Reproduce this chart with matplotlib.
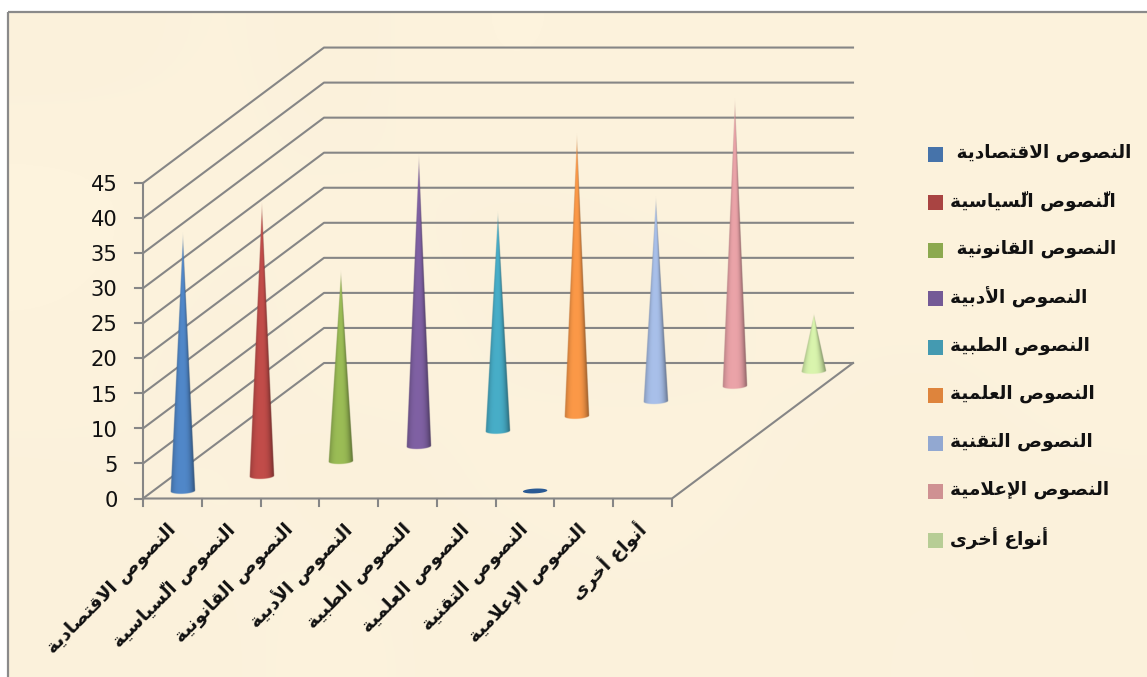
import numpy as np
import matplotlib
matplotlib.use("Agg")
import matplotlib.pyplot as plt
from matplotlib.patches import Polygon, Rectangle
from matplotlib.colors import to_rgb

# ---- chart data -------------------------------------------------------------
categories = [
    "النصوص الاقتصادية", "النصوص السّياسية", "النصوص القانونية",
    "النصوص الأدبية", "النصوص الطبية", "النصوص العلمية",
    "النصوص التقنية", "النصوص الإعلامية", "أنواع أخرى",
]
legend_labels = [
    "النصوص الاقتصادية ", "النَّصوص السّياسية", "النصوص القانونية ",
    "النصوص الأدبية", "النصوص الطبية", "النصوص العلمية",
    "النصوص التقنية", "النصوص الإعلامية", "أنواع أخرى",
]
series_values = [36.7, 39.0, 27.1, 41.4, 31.1, 40.2, 29.1, 40.8, 8.1]
# the first series also holds a zero in the seventh category
zero_category = 6
zero_series = 0
y_ticks = [0, 5, 10, 15, 20, 25, 30, 35, 40, 45]

cone_colors = ["#4F85C5", "#BE4B48", "#98B954", "#7D5FA0", "#46AAC4",
               "#F79646", "#A5BCE5", "#E6A0A5", "#D5F0AA"]
legend_colors = ["#4673AA", "#A94442", "#8CA94F", "#745A96", "#449AB1",
                 "#DE843C", "#92A8D1", "#CF9192", "#B7CD95"]

# ---- Arabic shaping: matplotlib lays text out left to right without joining --
FORMS = {
    "ا": (0xFE8D, 0xFE8E), "أ": (0xFE83, 0xFE84), "إ": (0xFE87, 0xFE88),
    "د": (0xFEA9, 0xFEAA), "ر": (0xFEAD, 0xFEAE), "و": (0xFEED, 0xFEEE),
    "ة": (0xFE93, 0xFE94), "ى": (0xFEEF, 0xFEF0),
    "ب": (0xFE8F, 0xFE90, 0xFE91, 0xFE92), "ت": (0xFE95, 0xFE96, 0xFE97, 0xFE98),
    "خ": (0xFEA5, 0xFEA6, 0xFEA7, 0xFEA8), "س": (0xFEB1, 0xFEB2, 0xFEB3, 0xFEB4),
    "ص": (0xFEB9, 0xFEBA, 0xFEBB, 0xFEBC), "ط": (0xFEC1, 0xFEC2, 0xFEC3, 0xFEC4),
    "ع": (0xFEC9, 0xFECA, 0xFECB, 0xFECC), "ق": (0xFED5, 0xFED6, 0xFED7, 0xFED8),
    "ل": (0xFEDD, 0xFEDE, 0xFEDF, 0xFEE0), "م": (0xFEE1, 0xFEE2, 0xFEE3, 0xFEE4),
    "ن": (0xFEE5, 0xFEE6, 0xFEE7, 0xFEE8), "ي": (0xFEF1, 0xFEF2, 0xFEF3, 0xFEF4),
}
LAM_ALEF = {"ا": (0xFEFB, 0xFEFC), "أ": (0xFEF7, 0xFEF8), "إ": (0xFEF9, 0xFEFA)}
MARKS = "\u064E\u0651"


def shape(text):
    clusters = []
    for ch in text:
        if ch in MARKS and clusters:
            clusters[-1][1] += ch
        else:
            clusters.append([ch, ""])
    out = []
    i = 0
    prev_joins = False
    while i < len(clusters):
        ch, marks = clusters[i]
        nxt = clusters[i + 1][0] if i + 1 < len(clusters) else None
        if ch == "ل" and nxt in LAM_ALEF:
            out.append(chr(LAM_ALEF[nxt][1 if prev_joins else 0]) + marks)
            prev_joins = False
            i += 2
            continue
        if ch not in FORMS:
            out.append(ch + marks)
            prev_joins = False
            i += 1
            continue
        forms = FORMS[ch]
        dual = len(forms) == 4
        joins_next = dual and nxt in FORMS
        if prev_joins and joins_next:
            glyph = forms[3]
        elif prev_joins:
            glyph = forms[1]
        elif joins_next:
            glyph = forms[2]
        else:
            glyph = forms[0]
        out.append(chr(glyph) + marks)
        prev_joins = joins_next
        i += 1
    return "".join(reversed(out))


# ---- oblique projection of the 3-D column chart onto the canvas --------------
FRONT_X, FRONT_Y = 143.0, 498.5
WIDTH = 529.0
DEPTH_X, DEPTH_Y = 181.0, -135.5
UNIT = 7.01
N = len(categories)


def project(cat, ser, value=0.0):
    """cat and ser are floats in 0..N along width and depth; value is height."""
    return (FRONT_X + WIDTH * cat / N + DEPTH_X * ser / N,
            FRONT_Y + DEPTH_Y * ser / N - UNIT * value)


fig = plt.figure(figsize=(11.47, 6.77), dpi=100, facecolor="white")
ax = fig.add_axes([0, 0, 1, 1])
ax.set_xlim(0, 1147)
ax.set_ylim(677, 0)
ax.set_autoscale_on(False)
ax.axis("off")

# parchment backdrop with soft mottling
tint = np.array([
    [0.992, 0.998, 0.992, 1.004, 0.995, 0.998, 0.995, 0.998],
    [1.006, 0.995, 0.998, 0.992, 0.998, 0.995, 1.000, 0.995],
    [0.998, 0.992, 1.000, 0.995, 0.992, 0.998, 0.995, 1.000],
    [0.995, 0.998, 0.992, 0.998, 1.000, 0.995, 0.992, 0.995],
    [0.992, 0.995, 0.998, 0.992, 0.995, 0.992, 0.998, 0.992],
])
paper = np.array(to_rgb("#FDF3DD"))
texture = np.clip(tint[..., None] * paper, 0, 1)
ax.imshow(texture, extent=(8, 1147, 677, 12), interpolation="bicubic",
          aspect="auto", zorder=0)
ax.add_patch(Rectangle((8, 12), 1147, 677, fc="none", ec="#8A8A8A", lw=1.6, zorder=1))

GRID = "#868686"
grid_kw = dict(color=GRID, lw=1.5, solid_capstyle="projecting", zorder=2)

# wall gridlines
for v in y_ticks:
    x0, y0 = project(0, 0, v)
    x1, y1 = project(0, N, v)
    x2, y2 = project(N, N, v)
    ax.plot([x0, x1, x2], [y0, y1, y2], **grid_kw)

# floor outline, value axis and ticks
xa, ya = project(0, 0)
xb, yb = project(N, 0)
xc, yc = project(N, N)
ax.plot([xa, xb, xc], [ya, yb, yc], **grid_kw)
ax.plot([xa, xa], [ya, project(0, 0, y_ticks[-1])[1]], **grid_kw)
for v in y_ticks:
    x, y = project(0, 0, v)
    ax.plot([x - 8, x], [y, y], **grid_kw)
    ax.text(x - 25.5, y + 2.2, str(v), ha="right", va="center", fontsize=15.2,
            color="#111111", family="DejaVu Sans", zorder=5)
for c in range(N + 1):
    x, y = project(c, 0)
    ax.plot([x, x], [y, y + 7], **grid_kw)


def shading(base, t):
    """Cylinder-style shading: t runs from -1 (left rim) to 1 (right rim)."""
    light = 1 - (np.abs(t + 0.1) / 1.1) ** 3
    factor = 0.58 + 0.44 * light
    return np.clip(np.asarray(to_rgb(base))[None, None, :] * factor[..., None], 0, 1)


def draw_cone(cat, ser, value, color, z):
    cx, cy = project(cat + 0.5, ser + 0.5)
    rx, ry = 12.2, 3.0
    tilt = -0.045
    if value == 0:
        theta = np.linspace(0, 2 * np.pi, 60)
        pts = np.c_[cx + rx * np.cos(theta),
                    cy + ry * 0.8 * np.sin(theta) + tilt * rx * np.cos(theta)]
        ax.add_patch(Polygon(pts, closed=True, fc="#2A5A94", ec="none", zorder=z))
        return
    top = cy - UNIT * value
    x0, x1 = cx - rx - 1.5, cx + rx + 1.5
    y0, y1 = top - 1.0, cy + ry + 2.0
    xs = np.arange(x0, x1, 0.25) + 0.125
    ys = np.arange(y0, y1, 0.25) + 0.125
    gx, gy = np.meshgrid(xs, ys)
    half = rx * np.clip((gy - top) / (cy - top), 1e-3, None)
    dx = gx - cx
    t = np.clip(dx / half, -1, 1)
    rgb = shading(color, t)
    # soft silhouette: the two flanks and the curved rim at the bottom
    flank = np.clip((half - np.abs(dx)) / 0.8 + 0.15, 0, 1)
    rim_y = cy + ry * np.sqrt(np.clip(1 - (dx / rx) ** 2, 0, 1)) + tilt * dx
    rim = np.clip((rim_y - gy) / 0.8 + 0.5, 0, 1)
    rgba = np.dstack([rgb, flank * rim])
    ax.imshow(rgba, extent=(x0, x0 + 0.25 * len(xs), y0 + 0.25 * len(ys), y0),
              origin="upper", interpolation="antialiased", aspect="auto", zorder=z)


# far cones are painted first so that nearer ones overlap them
for s in range(N - 1, -1, -1):
    draw_cone(s, s, series_values[s], cone_colors[s], 3 + (N - s) * 0.01)
draw_cone(zero_category, zero_series, 0, cone_colors[zero_series], 3.5)

# category labels
for c, name in enumerate(categories):
    x, y = project(c + 0.5, 0)
    ax.text(x + 0.5, y + 28.5, shape(name), rotation=45, rotation_mode="anchor",
            ha="right", va="center", fontsize=13.3, fontweight="bold",
            family="DejaVu Sans", color="#111111", zorder=5)

# legend
legend_y = [154, 202, 250, 298, 347, 395, 443, 491, 540]
for name, col, y in zip(legend_labels, legend_colors, legend_y):
    ax.add_patch(Rectangle((928, y - 7.5), 15, 15, fc=col, ec="none", zorder=5))
    ax.text(950, y - 1, shape(name), ha="left", va="center", fontsize=13.3,
            fontweight="bold", family="DejaVu Sans", color="#111111", zorder=5)

fig.savefig("out.png", dpi=100, facecolor="white")
